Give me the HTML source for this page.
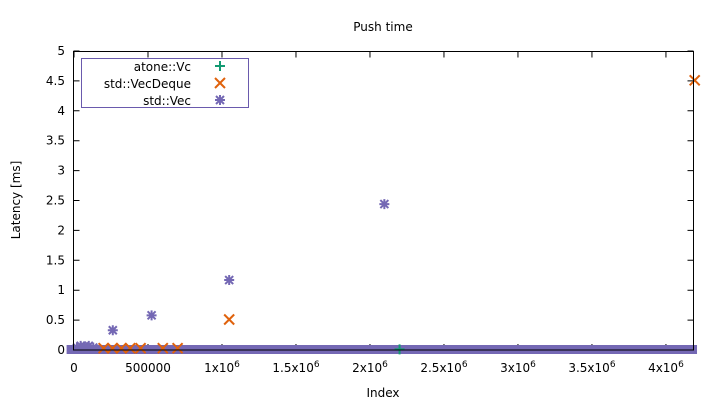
<!DOCTYPE html>
<html><head><meta charset="utf-8"><style>
body{margin:0;background:#fff}
svg{font-family:"DejaVu Sans","Liberation Sans",sans-serif;font-size:12px}
</style></head><body>
<svg width="720" height="405" viewBox="0 0 720 405" xmlns="http://www.w3.org/2000/svg">
<text x="383" y="31" text-anchor="middle">Push time</text>
<text transform="translate(20,200) rotate(-90)" text-anchor="middle">Latency [ms]</text>
<text x="383" y="397" text-anchor="middle">Index</text>
<g id="grid"></g>
<g id="marks"></g>
<rect x="73.5" y="51.5" width="620" height="298.5" fill="none" stroke="#000" stroke-width="1"/>
<g>
<rect x="81.5" y="58.5" width="167" height="49" fill="#fff" stroke="#6a5aad"/>
<text x="191" y="71" text-anchor="end">atone::Vc</text>
<text x="191" y="88" text-anchor="end">std::VecDeque</text>
<text x="191" y="105" text-anchor="end">std::Vec</text>
<g id="legmarks"></g>
</g>
</svg>
<script>
const xTicks=[0,500000,1000000,1500000,2000000,2500000,3000000,3500000,4000000];
const xTickLabels=["0","500000","1x10^6","1.5x10^6","2x10^6","2.5x10^6","3x10^6","3.5x10^6","4x10^6"];
const yTicks=[0,0.5,1,1.5,2,2.5,3,3.5,4,4.5,5];
const vecX=[20000,45000,70000,100000,130000,262144,524288,1048576,2097152];
const vecY=[0.04,0.07,0.06,0.07,0.04,0.33,0.58,1.17,2.44];
const dequeX=[200000,260000,320000,380000,450000,600000,700000,1048576,4194304];
const dequeY=[0.03,0.03,0.03,0.03,0.03,0.03,0.03,0.51,4.51];
const vcX=[2200000];
const vcY=[0.01];
const baseStart=-50000, baseEnd=4210000, baseVal=0;
const X0=74,X1=694.7,XMAX=4194304,Y0=350,Y1=51,YMAX=5;
const sx=v=>X0+(v/XMAX)*(X1-X0);
const sy=v=>Y0-(v/YMAX)*(Y0-Y1);
const NS="http://www.w3.org/2000/svg";
function mk(t,a,p){const e=document.createElementNS(NS,t);for(const k in a)e.setAttribute(k,a[k]);p.appendChild(e);return e;}
const g=document.getElementById('grid');
yTicks.forEach(v=>{const y=sy(v);
 const l=mk('path',{d:`M73.5 ${y}h6M693.5 ${y}h-6`,stroke:'#000'},g);
 
 
 const t=mk('text',{x:65,y:y+4,'text-anchor':'end'},g);t.textContent=String(v);
 
 
});
xTicks.forEach((v,i)=>{const x=sx(v);
 const l=mk('path',{d:`M${x} 350v-6M${x} 51.5v6`,stroke:'#000'},g);
 
 
 const t=mk('text',{x:x,y:372,'text-anchor':'middle'},g);
 const parts=xTickLabels[i].split('^');
 t.textContent=parts[0];
 if(parts[1]){const s=mk('tspan',{dy:-5,'font-size':'9'},t);s.textContent=parts[1];}
 
 
});
const m=document.getElementById('marks');
const PUR='#7468b4',ORA='#e0620c',GRN='#129a72';
const band=mk('rect',{x:sx(baseStart),y:sy(baseVal)-5,width:sx(baseEnd)-sx(baseStart),height:9,fill:PUR},m);


function star(x,y,c,p){const e=mk('path',{d:`M${x-5} ${y}h10M${x} ${y-5}v10M${x-4} ${y-4}l8 8M${x+4} ${y-4}l-8 8`,stroke:c,'stroke-width':2},p);return e;}
function cross(x,y,c,p){return mk('path',{d:`M${x-5} ${y-5}l10 10M${x+5} ${y-5}l-10 10`,stroke:c,'stroke-width':2},p);}
function plus(x,y,c,p){return mk('path',{d:`M${x-5} ${y}h10M${x} ${y-5}v10`,stroke:c,'stroke-width':2},p);}
vcX.forEach((v,i)=>{const e=plus(sx(v),sy(vcY[i]),GRN,m);
 
 });
dequeX.forEach((v,i)=>{const e=cross(sx(v),sy(dequeY[i]),ORA,m);
 
 });
vecX.forEach((v,i)=>{const e=star(sx(v),sy(vecY[i]),PUR,m);
 
 });
const lm=document.getElementById('legmarks');
plus(220,66,GRN,lm);cross(220,83,ORA,lm);star(220,100,PUR,lm);
</script>
</body></html>
